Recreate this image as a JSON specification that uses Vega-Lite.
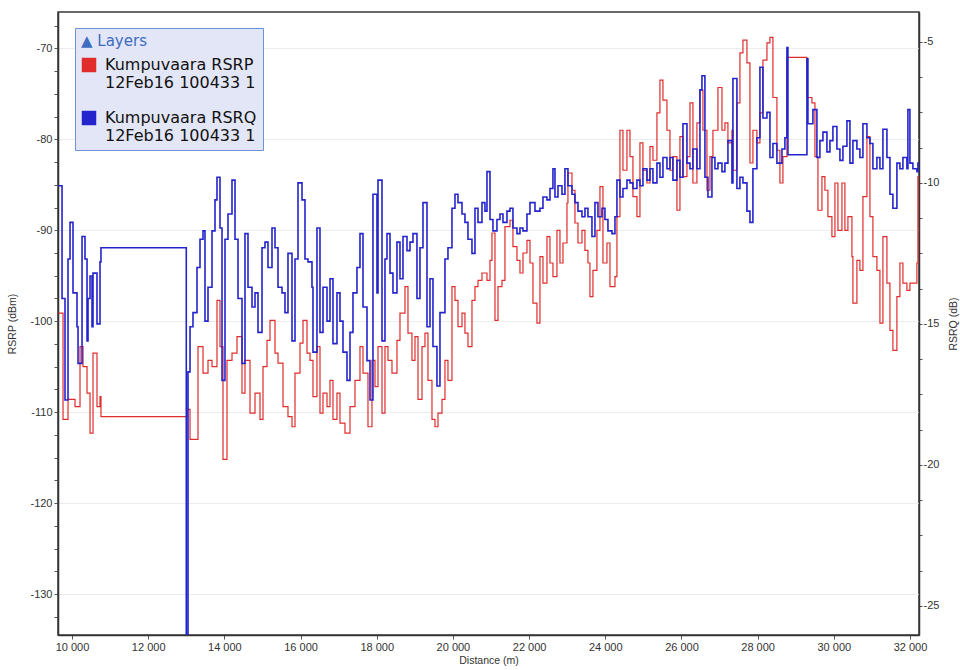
{
  "$schema": "https://vega.github.io/schema/vega-lite/v6.json",
  "width": 861,
  "height": 623,
  "autosize": {"type": "none"},
  "padding": {"left": 58, "top": 12, "right": 41, "bottom": 35},
  "background": "#ffffff",
  "config": {
    "view": {"stroke": "#3a3a3a", "strokeWidth": 1.5},
    "axis": {
      "labelFont": "Liberation Sans",
      "labelFontSize": 11,
      "labelColor": "#333333",
      "titleFont": "Liberation Sans",
      "titleFontSize": 10.5,
      "titleFontWeight": "normal",
      "titleColor": "#333333",
      "domainColor": "#333333",
      "domainWidth": 1.5,
      "tickColor": "#555555",
      "tickSize": 4,
      "labelPadding": 2
    }
  },
  "datasets": {
    "rsrp": [
      {"d":9640,"v":-99.1},{"d":9764,"v":-110.8},{"d":9895,"v":-108.6},{"d":10079,"v":-109.4},{"d":10210,"v":-102.8},{"d":10289,"v":-105.0},{"d":10394,"v":-107.9},{"d":10473,"v":-112.3},{"d":10551,"v":-103.5},{"d":10656,"v":-109.4},{"d":10735,"v":-108.3},{"d":10760,"v":-110.5},
      {"d":13019,"v":-109.7},{"d":13098,"v":-113.0},{"d":13308,"v":-102.8},{"d":13439,"v":-105.7},{"d":13570,"v":-104.3},{"d":13675,"v":-105.0},{"d":13806,"v":-97.7},{"d":13885,"v":-102.8},{"d":13964,"v":-115.2},{"d":14069,"v":-104.3},{"d":14200,"v":-103.5},{"d":14331,"v":-101.7},{"d":14463,"v":-107.9},{"d":14541,"v":-104.3},{"d":14673,"v":-110.1},{"d":14804,"v":-107.9},{"d":14935,"v":-110.8},{"d":15014,"v":-105.0},{"d":15119,"v":-102.1},{"d":15198,"v":-99.9},{"d":15329,"v":-103.5},{"d":15408,"v":-104.6},{"d":15539,"v":-109.4},{"d":15670,"v":-110.5},{"d":15775,"v":-111.6},{"d":15854,"v":-105.7},{"d":15985,"v":-102.4},{"d":16064,"v":-99.9},{"d":16169,"v":-103.5},{"d":16248,"v":-104.3},{"d":16326,"v":-108.3},{"d":16431,"v":-102.8},{"d":16510,"v":-110.1},{"d":16589,"v":-107.9},{"d":16694,"v":-109.4},{"d":16773,"v":-106.5},{"d":16851,"v":-110.8},{"d":16956,"v":-107.9},{"d":17035,"v":-111.2},{"d":17166,"v":-112.3},{"d":17298,"v":-109.4},{"d":17429,"v":-106.5},{"d":17560,"v":-102.8},{"d":17639,"v":-105.7},{"d":17770,"v":-111.6},{"d":17875,"v":-104.3},{"d":17954,"v":-107.2},{"d":18033,"v":-102.8},{"d":18138,"v":-110.1},{"d":18216,"v":-102.8},{"d":18295,"v":-104.3},{"d":18400,"v":-105.7},{"d":18531,"v":-102.1},{"d":18610,"v":-99.1},{"d":18741,"v":-96.2},{"d":18820,"v":-101.3},{"d":18925,"v":-104.3},{"d":19004,"v":-101.7},{"d":19083,"v":-108.6},{"d":19188,"v":-102.8},{"d":19266,"v":-101.3},{"d":19345,"v":-106.5},{"d":19450,"v":-110.8},{"d":19529,"v":-111.6},{"d":19608,"v":-110.1},{"d":19713,"v":-108.6},{"d":19791,"v":-104.3},{"d":19870,"v":-106.5},{"d":19975,"v":-96.2},{"d":20054,"v":-97.7},{"d":20133,"v":-100.6},{"d":20238,"v":-99.1},{"d":20316,"v":-101.3},{"d":20395,"v":-102.8},{"d":20500,"v":-97.7},{"d":20579,"v":-96.2},{"d":20658,"v":-95.5},{"d":20763,"v":-94.7},{"d":20894,"v":-95.5},{"d":20973,"v":-93.3},{"d":21025,"v":-90.3},{"d":21104,"v":-99.9},{"d":21183,"v":-96.2},{"d":21288,"v":-95.5},{"d":21366,"v":-89.6},{"d":21498,"v":-88.9},{"d":21576,"v":-91.8},{"d":21681,"v":-93.3},{"d":21760,"v":-94.7},{"d":21839,"v":-92.5},{"d":21944,"v":-91.1},{"d":22023,"v":-93.6},{"d":22101,"v":-98.0},{"d":22206,"v":-100.2},{"d":22285,"v":-92.9},{"d":22364,"v":-95.8},{"d":22469,"v":-90.7},{"d":22548,"v":-93.6},{"d":22626,"v":-95.1},{"d":22731,"v":-90.0},{"d":22810,"v":-93.6},{"d":22889,"v":-91.4},{"d":22994,"v":-87.0},{"d":23020,"v":-83.7},{"d":23125,"v":-85.6},{"d":23204,"v":-89.2},{"d":23283,"v":-91.4},{"d":23388,"v":-90.0},{"d":23466,"v":-92.2},{"d":23545,"v":-93.6},{"d":23598,"v":-97.3},{"d":23676,"v":-94.4},{"d":23781,"v":-90.0},{"d":23860,"v":-85.2},{"d":23939,"v":-93.6},{"d":24044,"v":-91.4},{"d":24123,"v":-96.2},{"d":24254,"v":-95.1},{"d":24306,"v":-88.5},{"d":24385,"v":-79.0},{"d":24464,"v":-83.4},{"d":24569,"v":-79.0},{"d":24648,"v":-81.9},{"d":24726,"v":-86.3},{"d":24831,"v":-88.5},{"d":24910,"v":-80.4},{"d":24989,"v":-83.4},{"d":25094,"v":-84.8},{"d":25173,"v":-80.8},{"d":25251,"v":-82.3},{"d":25356,"v":-77.1},{"d":25435,"v":-73.5},{"d":25514,"v":-75.7},{"d":25619,"v":-79.0},{"d":25698,"v":-83.4},{"d":25776,"v":-81.9},{"d":25881,"v":-87.8},{"d":25960,"v":-79.7},{"d":26039,"v":-84.1},{"d":26144,"v":-81.9},{"d":26223,"v":-76.0},{"d":26301,"v":-84.8},{"d":26406,"v":-78.2},{"d":26485,"v":-74.6},{"d":26564,"v":-79.0},{"d":26669,"v":-85.6},{"d":26748,"v":-81.9},{"d":26826,"v":-79.0},{"d":26958,"v":-74.3},{"d":27063,"v":-79.0},{"d":27141,"v":-78.2},{"d":27220,"v":-80.4},{"d":27325,"v":-79.0},{"d":27351,"v":-83.4},{"d":27456,"v":-76.0},{"d":27535,"v":-70.5},{"d":27614,"v":-69.1},{"d":27719,"v":-71.6},{"d":27798,"v":-82.6},{"d":27876,"v":-79.0},{"d":27981,"v":-80.4},{"d":28060,"v":-77.1},{"d":28139,"v":-71.3},{"d":28244,"v":-69.4},{"d":28323,"v":-68.8},{"d":28401,"v":-75.4},{"d":28506,"v":-81.2},{"d":28585,"v":-84.8},{"d":28664,"v":-81.9},{"d":28769,"v":-71.0},{"d":29294,"v":-75.4},{"d":29425,"v":-76.0},{"d":29504,"v":-81.9},{"d":29583,"v":-87.8},{"d":29688,"v":-84.1},{"d":29766,"v":-85.6},{"d":29845,"v":-88.5},{"d":29950,"v":-90.7},{"d":30029,"v":-84.8},{"d":30108,"v":-90.0},{"d":30213,"v":-84.8},{"d":30291,"v":-90.0},{"d":30370,"v":-88.5},{"d":30475,"v":-92.9},{"d":30501,"v":-98.0},{"d":30606,"v":-93.3},{"d":30685,"v":-94.4},{"d":30764,"v":-86.3},{"d":30869,"v":-79.7},{"d":30948,"v":-88.5},{"d":31026,"v":-92.9},{"d":31131,"v":-94.4},{"d":31210,"v":-100.2},{"d":31289,"v":-90.7},{"d":31394,"v":-95.8},{"d":31473,"v":-101.0},{"d":31551,"v":-103.2},{"d":31656,"v":-97.3},{"d":31735,"v":-93.6},{"d":31814,"v":-95.8},{"d":31919,"v":-96.6},{"d":31998,"v":-95.8},{"d":32076,"v":-95.8},{"d":32181,"v":-93.6},{"d":32208,"v":-84.1},{"d":32236,"v":-84.1}
    ],
    "rsrq": [
      {"d":9640,"v":-10.1},{"d":9738,"v":-14.1},{"d":9816,"v":-17.7},{"d":9895,"v":-12.7},{"d":9948,"v":-11.4},{"d":10026,"v":-13.9},{"d":10131,"v":-15.1},{"d":10158,"v":-16.4},{"d":10263,"v":-11.9},{"d":10341,"v":-12.7},{"d":10394,"v":-15.6},{"d":10420,"v":-14.1},{"d":10473,"v":-13.3},{"d":10525,"v":-15.1},{"d":10551,"v":-13.2},{"d":10656,"v":-15.0},{"d":10735,"v":-12.8},{"d":10760,"v":-12.3},
      {"d":13000,"v":-27.5},{"d":13045,"v":-16.7},{"d":13098,"v":-15.1},{"d":13176,"v":-14.6},{"d":13281,"v":-13.0},{"d":13360,"v":-12.0},{"d":13439,"v":-11.7},{"d":13491,"v":-14.9},{"d":13570,"v":-13.7},{"d":13675,"v":-11.7},{"d":13754,"v":-10.6},{"d":13806,"v":-9.8},{"d":13885,"v":-11.6},{"d":13938,"v":-17.0},{"d":14016,"v":-12.0},{"d":14095,"v":-11.1},{"d":14200,"v":-9.9},{"d":14279,"v":-12.0},{"d":14358,"v":-14.1},{"d":14463,"v":-16.4},{"d":14541,"v":-11.8},{"d":14620,"v":-13.7},{"d":14725,"v":-14.4},{"d":14804,"v":-13.9},{"d":14883,"v":-15.3},{"d":14988,"v":-12.3},{"d":15066,"v":-12.1},{"d":15145,"v":-13.0},{"d":15250,"v":-11.6},{"d":15329,"v":-12.3},{"d":15408,"v":-13.7},{"d":15513,"v":-13.9},{"d":15591,"v":-14.6},{"d":15670,"v":-12.5},{"d":15775,"v":-15.6},{"d":15854,"v":-12.7},{"d":15933,"v":-10.0},{"d":16038,"v":-10.6},{"d":16116,"v":-12.7},{"d":16195,"v":-12.8},{"d":16300,"v":-13.7},{"d":16326,"v":-16.0},{"d":16431,"v":-11.6},{"d":16510,"v":-15.3},{"d":16589,"v":-13.7},{"d":16694,"v":-14.9},{"d":16773,"v":-13.4},{"d":16851,"v":-15.7},{"d":16956,"v":-13.9},{"d":17035,"v":-14.9},{"d":17114,"v":-16.0},{"d":17219,"v":-17.0},{"d":17298,"v":-15.3},{"d":17376,"v":-13.9},{"d":17481,"v":-13.0},{"d":17560,"v":-11.8},{"d":17639,"v":-14.4},{"d":17744,"v":-16.3},{"d":17823,"v":-17.7},{"d":17901,"v":-10.4},{"d":18006,"v":-13.9},{"d":18033,"v":-9.9},{"d":18138,"v":-15.6},{"d":18216,"v":-12.7},{"d":18269,"v":-11.8},{"d":18348,"v":-13.2},{"d":18426,"v":-13.9},{"d":18531,"v":-12.1},{"d":18610,"v":-13.4},{"d":18689,"v":-11.9},{"d":18794,"v":-12.4},{"d":18873,"v":-12.1},{"d":18951,"v":-11.8},{"d":19056,"v":-14.1},{"d":19135,"v":-12.3},{"d":19214,"v":-10.7},{"d":19319,"v":-15.1},{"d":19398,"v":-13.4},{"d":19476,"v":-15.8},{"d":19581,"v":-17.2},{"d":19660,"v":-14.6},{"d":19791,"v":-12.7},{"d":19870,"v":-12.3},{"d":19975,"v":-10.9},{"d":20054,"v":-10.4},{"d":20133,"v":-10.7},{"d":20238,"v":-11.1},{"d":20316,"v":-11.4},{"d":20395,"v":-12.0},{"d":20500,"v":-12.5},{"d":20579,"v":-10.9},{"d":20658,"v":-11.4},{"d":20763,"v":-10.7},{"d":20841,"v":-11.0},{"d":20894,"v":-9.6},{"d":20973,"v":-11.3},{"d":21051,"v":-11.7},{"d":21156,"v":-11.3},{"d":21235,"v":-11.1},{"d":21314,"v":-11.4},{"d":21419,"v":-11.0},{"d":21498,"v":-10.9},{"d":21576,"v":-11.6},{"d":21681,"v":-11.8},{"d":21760,"v":-11.6},{"d":21839,"v":-11.7},{"d":21944,"v":-11.1},{"d":22023,"v":-10.7},{"d":22154,"v":-11.0},{"d":22285,"v":-10.9},{"d":22364,"v":-10.5},{"d":22469,"v":-10.6},{"d":22548,"v":-10.2},{"d":22626,"v":-9.5},{"d":22679,"v":-10.5},{"d":22758,"v":-10.1},{"d":22863,"v":-10.4},{"d":22941,"v":-9.5},{"d":23020,"v":-10.1},{"d":23125,"v":-10.4},{"d":23204,"v":-10.7},{"d":23283,"v":-11.0},{"d":23388,"v":-11.2},{"d":23466,"v":-10.9},{"d":23545,"v":-11.2},{"d":23650,"v":-11.9},{"d":23729,"v":-10.7},{"d":23808,"v":-11.2},{"d":23913,"v":-10.9},{"d":23991,"v":-11.3},{"d":24070,"v":-11.7},{"d":24175,"v":-11.8},{"d":24254,"v":-11.2},{"d":24306,"v":-9.9},{"d":24385,"v":-10.5},{"d":24464,"v":-10.2},{"d":24569,"v":-9.9},{"d":24648,"v":-10.0},{"d":24726,"v":-10.2},{"d":24831,"v":-9.9},{"d":24910,"v":-10.1},{"d":24989,"v":-9.5},{"d":25094,"v":-9.9},{"d":25173,"v":-9.5},{"d":25251,"v":-10.0},{"d":25356,"v":-9.3},{"d":25435,"v":-9.8},{"d":25514,"v":-9.1},{"d":25619,"v":-9.5},{"d":25698,"v":-9.1},{"d":25776,"v":-9.9},{"d":25881,"v":-9.2},{"d":25960,"v":-9.8},{"d":26039,"v":-7.9},{"d":26144,"v":-9.3},{"d":26223,"v":-9.5},{"d":26301,"v":-8.8},{"d":26406,"v":-9.5},{"d":26485,"v":-6.7},{"d":26538,"v":-6.2},{"d":26616,"v":-9.8},{"d":26695,"v":-10.5},{"d":26800,"v":-9.1},{"d":26879,"v":-9.5},{"d":26958,"v":-9.3},{"d":27063,"v":-9.6},{"d":27141,"v":-9.3},{"d":27220,"v":-8.5},{"d":27325,"v":-10.0},{"d":27351,"v":-6.3},{"d":27456,"v":-10.2},{"d":27535,"v":-9.8},{"d":27614,"v":-10.0},{"d":27719,"v":-11.0},{"d":27798,"v":-11.4},{"d":27876,"v":-9.5},{"d":27981,"v":-8.4},{"d":28060,"v":-5.9},{"d":28139,"v":-7.7},{"d":28244,"v":-7.5},{"d":28323,"v":-9.1},{"d":28401,"v":-8.6},{"d":28506,"v":-9.3},{"d":28638,"v":-8.8},{"d":28716,"v":-8.4},{"d":28769,"v":-5.2},{"d":28795,"v":-9.0},{"d":29294,"v":-5.6},{"d":29320,"v":-7.9},{"d":29451,"v":-7.4},{"d":29556,"v":-9.1},{"d":29635,"v":-8.5},{"d":29714,"v":-8.2},{"d":29819,"v":-8.9},{"d":29898,"v":-8.5},{"d":29976,"v":-8.0},{"d":30081,"v":-8.8},{"d":30160,"v":-9.2},{"d":30239,"v":-8.7},{"d":30344,"v":-7.8},{"d":30423,"v":-9.3},{"d":30501,"v":-8.5},{"d":30606,"v":-8.8},{"d":30685,"v":-9.1},{"d":30764,"v":-7.9},{"d":30869,"v":-8.4},{"d":30948,"v":-8.6},{"d":31026,"v":-9.5},{"d":31131,"v":-9.1},{"d":31210,"v":-9.5},{"d":31289,"v":-8.1},{"d":31394,"v":-9.1},{"d":31473,"v":-10.4},{"d":31551,"v":-10.9},{"d":31656,"v":-9.3},{"d":31735,"v":-9.5},{"d":31814,"v":-9.1},{"d":31919,"v":-9.5},{"d":31945,"v":-7.4},{"d":31998,"v":-9.3},{"d":32076,"v":-9.5},{"d":32181,"v":-9.6},{"d":32208,"v":-9.3},{"d":32236,"v":-9.3}
    ]
  },
  "layer": [
    {
      "data": {"name": "rsrp"},
      "mark": {"type": "line", "interpolate": "step-after", "strokeWidth": 1.2, "clip": true},
      "encoding": {
        "x": {
          "field": "d", "type": "quantitative",
          "scale": {"domain": [9632, 32236], "nice": false, "zero": false},
          "axis": {
            "title": "Distance (m)",
            "titlePadding": 3,
            "grid": false,
            "values": [10000,10500,11000,11500,12000,12500,13000,13500,14000,14500,15000,15500,16000,16500,17000,17500,18000,18500,19000,19500,20000,20500,21000,21500,22000,22500,23000,23500,24000,24500,25000,25500,26000,26500,27000,27500,28000,28500,29000,29500,30000,30500,31000,31500,32000],
            "labelExpr": "datum.value % 2000 === 0 ? replace(format(datum.value, ','), ',', ' ') : ''"
          }
        },
        "y": {
          "field": "v", "type": "quantitative",
          "scale": {"domain": [-134.5, -66.0], "nice": false, "zero": false},
          "axis": {
            "orient": "left",
            "title": "RSRP (dBm)",
            "titlePadding": 12,
            "values": [-132.5,-130,-127.5,-125,-122.5,-120,-117.5,-115,-112.5,-110,-107.5,-105,-102.5,-100,-97.5,-95,-92.5,-90,-87.5,-85,-82.5,-80,-77.5,-75,-72.5,-70,-67.5],
            "labelExpr": "datum.value % 10 === 0 ? '' + datum.value : ''",
            "grid": true,
            "gridColor": "#ececec",
            "gridOpacity": {"condition": {"test": "datum.value % 10 === 0", "value": 1}, "value": 0}
          }
        },
        "color": {
          "datum": "Kumpuvaara RSRP", "type": "nominal",
          "scale": {"domain": ["Kumpuvaara RSRP", "Kumpuvaara RSRQ"], "range": ["#e02c2c", "#2424cc"]},
          "legend": {
            "orient": "none",
            "legendX": 17,
            "legendY": 16,
            "title": "▲ Layers",
            "titleFont": "DejaVu Sans",
            "titleFontSize": 15,
            "titleFontWeight": "normal",
            "titleColor": "#3d6cc0",
            "titlePadding": 8,
            "fillColor": "#e3e6f6",
            "strokeColor": "#6e92d4",
            "padding": 6,
            "symbolType": "square",
            "symbolSize": 30,
            "symbolStrokeWidth": 9,
            "labelFont": "DejaVu Sans",
            "labelFontSize": 16,
            "labelColor": "#111111",
            "labelLimit": 400,
            "labelOffset": 8,
            "rowPadding": 6,
            "labelExpr": "[datum.label, '12Feb16 100433 1']"
          }
        }
      }
    },
    {
      "data": {"name": "rsrq"},
      "mark": {"type": "line", "interpolate": "step-after", "strokeWidth": 1.6, "clip": true},
      "encoding": {
        "x": {"field": "d", "type": "quantitative"},
        "y": {
          "field": "v", "type": "quantitative",
          "scale": {"domain": [-26.03, -3.94], "nice": false, "zero": false},
          "axis": {
            "orient": "right",
            "title": "RSRQ (dB)",
            "titleAngle": 270,
            "titlePadding": 20,
            "grid": false,
            "tickSize": 3,
            "labelPadding": 1,
            "values": [-25,-23.75,-22.5,-21.25,-20,-18.75,-17.5,-16.25,-15,-13.75,-12.5,-11.25,-10,-8.75,-7.5,-6.25,-5],
            "labelExpr": "datum.value % 5 === 0 ? '' + datum.value : ''"
          }
        },
        "color": {"datum": "Kumpuvaara RSRQ", "type": "nominal"}
      }
    }
  ],
  "resolve": {"scale": {"y": "independent"}}
}
